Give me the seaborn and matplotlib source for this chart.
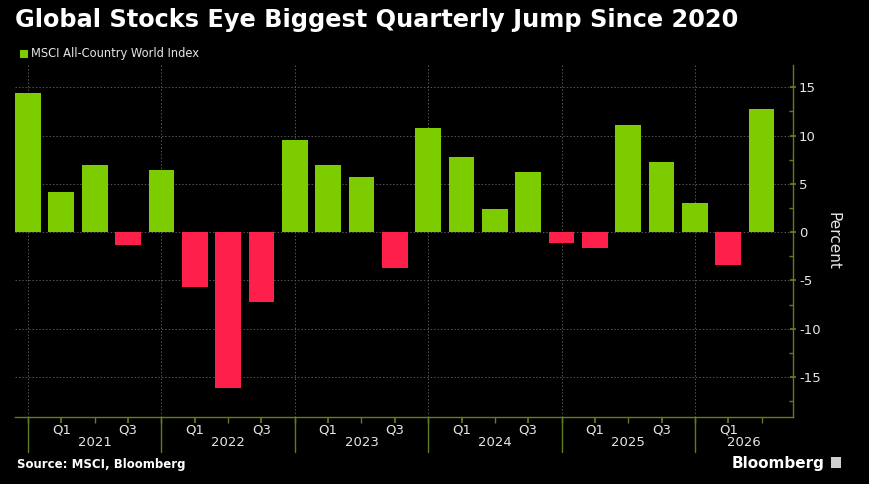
import numpy as np
import pandas as pd
import seaborn as sns
import matplotlib.pyplot as plt
from matplotlib.patches import Rectangle
from matplotlib.ticker import MultipleLocator

# Data: quarterly % change of the MSCI All-Country World Index
quarters = ["Q4 2020",
            "Q1 2021", "Q2 2021", "Q3 2021", "Q4 2021",
            "Q1 2022", "Q2 2022", "Q3 2022", "Q4 2022",
            "Q1 2023", "Q2 2023", "Q3 2023", "Q4 2023",
            "Q1 2024", "Q2 2024", "Q3 2024", "Q4 2024",
            "Q1 2025", "Q2 2025", "Q3 2025", "Q4 2025",
            "Q1 2026", "Q2 2026"]
returns = [14.4,
           4.2, 7.0, -1.3, 6.4,
           -5.7, -16.1, -7.2, 9.5,
           6.9, 5.7, -3.7, 10.8,
           7.8, 2.4, 6.2, -1.1,
           -1.6, 11.1, 7.3, 3.0,
           -3.4, 12.7]
years = ["2021", "2022", "2023", "2024", "2025", "2026"]
y_ticks = [-15, -10, -5, 0, 5, 10, 15]

GREEN = "#7dcc00"
RED = "#ff1f4b"
AXIS = "#5f7f1c"
GRID = "#555555"
TEXT = "#e6e6e6"

df = pd.DataFrame({"quarter": quarters, "pct": returns})
df["sign"] = np.where(df["pct"] >= 0, "up", "down")

sns.set_theme(style="dark")
plt.rcParams["font.family"] = ["DejaVu Sans"]

fig = plt.figure(figsize=(8.7, 4.84), dpi=100, facecolor="black")
ax = fig.add_axes([0.0172, 0.139, 0.8939, 0.7267])
ax.set_facecolor("black")

sns.barplot(data=df, x="quarter", y="pct", hue="sign",
            palette={"up": GREEN, "down": RED}, dodge=False,
            width=0.77, legend=False, ax=ax, saturation=1,
            edgecolor="none", linewidth=0)

n = len(quarters)
ax.set_xlim(-0.39, n - 0.07)
ax.set_ylim(-19.1, 17.3)

# y axis on the right
ax.yaxis.tick_right()
ax.yaxis.set_label_position("right")
ax.set_yticks(y_ticks)
ax.set_yticklabels([str(v) for v in y_ticks], color=TEXT, fontsize=9.5)
ax.yaxis.set_minor_locator(MultipleLocator(2.5))
ax.tick_params(axis="y", which="major", direction="inout", length=5,
               color=AXIS, pad=2, right=True, left=False)
ax.tick_params(axis="y", which="minor", direction="in", length=3,
               color=AXIS, right=True, left=False)
ax.set_ylabel("Percent", color=TEXT, fontsize=11, rotation=270, labelpad=14)

# x axis: quarter ticks, Q1/Q3 labels, year separators
year_pos = [i for i, q in enumerate(quarters) if q.startswith("Q4")]
label_pos = [i for i, q in enumerate(quarters) if q[:2] in ("Q1", "Q3")]
ax.set_xticks(label_pos)
ax.set_xticklabels([quarters[i][:2] for i in label_pos], color=TEXT, fontsize=9.5)
ax.set_xticks(range(n), minor=True)
ax.tick_params(axis="x", which="major", length=4, color=AXIS, pad=1, bottom=True)
ax.tick_params(axis="x", which="minor", length=4, color=AXIS, bottom=True)
ax.set_xlabel("")

xt = ax.get_xaxis_transform()
for p in year_pos:
    ax.plot([p, p], [0, -0.1], transform=xt, color=AXIS, lw=1, clip_on=False)
bounds = year_pos + [ax.get_xlim()[1]]
for yr, a, b in zip(years, bounds[:-1], bounds[1:]):
    ax.text((a + b) / 2, -0.072, yr, transform=xt, ha="center", va="center",
            color=TEXT, fontsize=9.5)

# grid
ax.grid(False)
for v in y_ticks:
    ax.axhline(v, color=GRID, lw=0.7, ls=(0, (1.5, 2)), zorder=0)
for p in year_pos:
    ax.axvline(p, color=GRID, lw=0.7, ls=(0, (1.5, 2)), zorder=0)

for s in ["top", "left"]:
    ax.spines[s].set_visible(False)
for s in ["right", "bottom"]:
    ax.spines[s].set_visible(True)
    ax.spines[s].set_color(AXIS)
    ax.spines[s].set_linewidth(1)

# title, legend, footer
fig.text(0.017, 0.958, "Global Stocks Eye Biggest Quarterly Jump Since 2020",
         color="white", fontsize=17.3, fontweight="heavy", va="center")
fig.patches.append(Rectangle((0.023, 0.880), 0.0095, 0.017, transform=fig.transFigure,
                             facecolor=GREEN, edgecolor="none"))
fig.text(0.036, 0.889, "MSCI All-Country World Index", color=TEXT, fontsize=8.3,
         va="center")
fig.text(0.020, 0.041, "Source: MSCI, Bloomberg", color="white", fontsize=8.5,
         fontweight="bold", va="center")
fig.text(0.948, 0.043, "Bloomberg", color="white", fontsize=11, ha="right",
         va="center", fontweight="semibold")
fig.patches.append(Rectangle((0.955, 0.033), 0.012, 0.022, transform=fig.transFigure,
                             facecolor="#cfcfcf", edgecolor="none"))

fig.savefig("out.png", dpi=100, facecolor="black")
